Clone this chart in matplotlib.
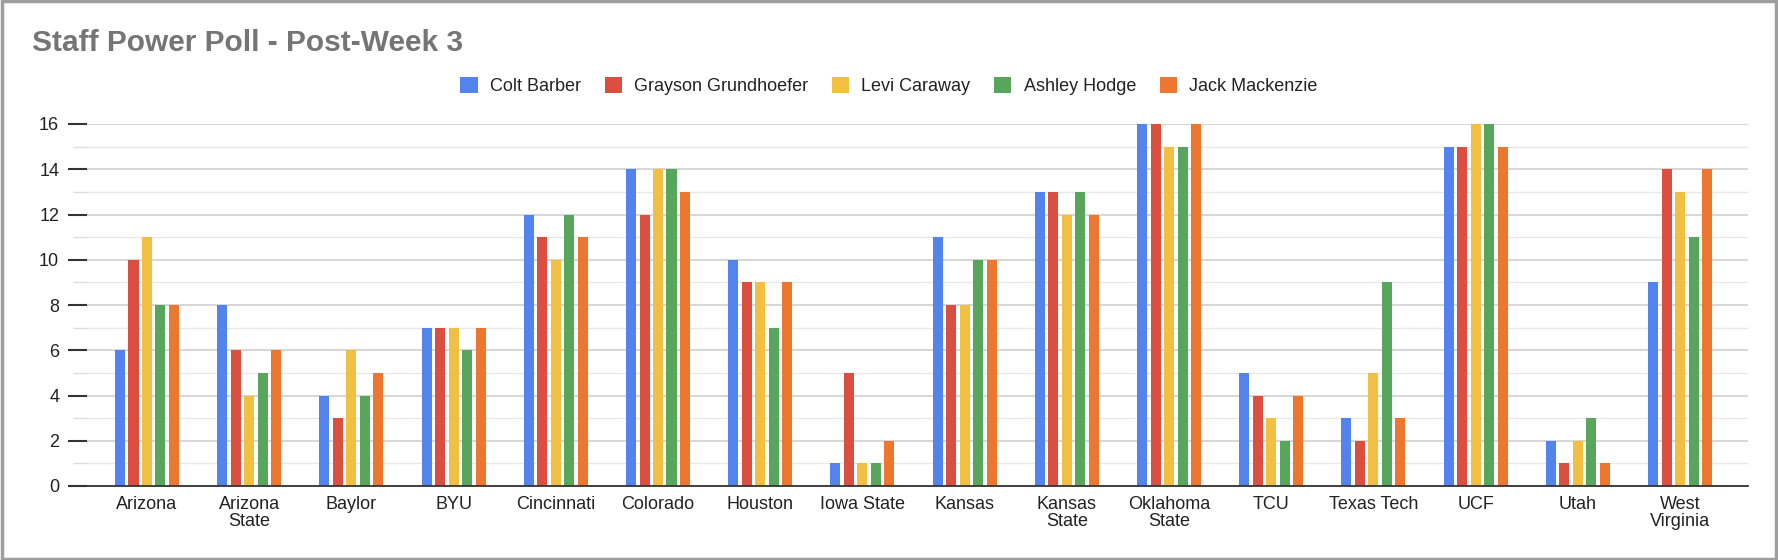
import numpy as np
import matplotlib
matplotlib.use("Agg")
import matplotlib.pyplot as plt
from matplotlib.patches import Patch, Rectangle

plt.rcParams['font.family'] = ['Liberation Sans', 'DejaVu Sans']

teams = ["Arizona", "Arizona\nState", "Baylor", "BYU", "Cincinnati", "Colorado",
         "Houston", "Iowa State", "Kansas", "Kansas\nState", "Oklahoma\nState",
         "TCU", "Texas Tech", "UCF", "Utah", "West\nVirginia"]

colt_barber = [6, 8, 4, 7, 12, 14, 10, 1, 11, 13, 16, 5, 3, 15, 2, 9]
grayson_grundhoefer = [10, 6, 3, 7, 11, 12, 9, 5, 8, 13, 16, 4, 2, 15, 1, 14]
levi_caraway = [11, 4, 6, 7, 10, 14, 9, 1, 8, 12, 15, 3, 5, 16, 2, 13]
ashley_hodge = [8, 5, 4, 6, 12, 14, 7, 1, 10, 13, 15, 2, 9, 16, 3, 11]
jack_mackenzie = [8, 6, 5, 7, 11, 13, 9, 2, 10, 12, 16, 4, 3, 15, 1, 14]

names = ["Colt Barber", "Grayson Grundhoefer", "Levi Caraway", "Ashley Hodge", "Jack Mackenzie"]
colors = ["#5383ec", "#da4f3f", "#f1bf42", "#58a65c", "#ee772f"]
series = [colt_barber, grayson_grundhoefer, levi_caraway, ashley_hodge, jack_mackenzie]

fig = plt.figure(figsize=(17.78, 5.6), dpi=100)
ax = fig.add_axes([87/1778, 74/560, (1748-87)/1778, (486-124)/560])

x = np.arange(len(teams))
step = 0.132
for i, (vals, col) in enumerate(zip(series, colors)):
    ax.bar(x + (i - 2) * step, vals, width=0.098, color=col, zorder=3)

ax.set_xlim(-0.587, 15.665)
ax.set_ylim(0, 16)
ax.set_yticks(range(0, 17, 2))
ax.set_yticks(range(1, 16, 2), minor=True)
ax.grid(axis='y', which='major', color='#cfcfcf', lw=1.2, zorder=0)
ax.grid(axis='y', which='minor', color='#e8e8e8', lw=1.0, zorder=0)
for s in ['top', 'right', 'left']:
    ax.spines[s].set_visible(False)
ax.spines['bottom'].set_color('#333333')
ax.spines['bottom'].set_linewidth(1.3)
ax.spines['bottom'].set_zorder(4)

ax.set_xticks(x)
ax.set_xticklabels(teams, fontsize=13, color='#222222', linespacing=1.0)
ax.tick_params(axis='x', length=0, pad=7)
ax.tick_params(axis='y', which='major', length=14, width=1.5, color='#333333',
               labelsize=13, labelcolor='#222222', pad=6)
ax.tick_params(axis='y', which='minor', length=10, width=1.0, color='#dddddd')

handles = [Patch(facecolor=c, edgecolor='none') for c in colors]
fig.legend(handles, names, loc='center', bbox_to_anchor=(0.5, 1 - 86/560), ncol=5,
           frameon=False, fontsize=13, handlelength=0.95, handleheight=0.95,
           handletextpad=0.67, columnspacing=1.33, labelcolor='#222222')

fig.text(32/1778, 1 - 43/560, "Staff Power Poll - Post-Week 3", fontsize=21.5,
         fontweight='bold', color='#757575', ha='left', va='center')

fig.patches.append(Rectangle((0.001, 0.002), 0.998, 0.996, transform=fig.transFigure,
                             fill=False, edgecolor='#9e9e9e', lw=2.5))

fig.savefig("out.png", dpi=100)
